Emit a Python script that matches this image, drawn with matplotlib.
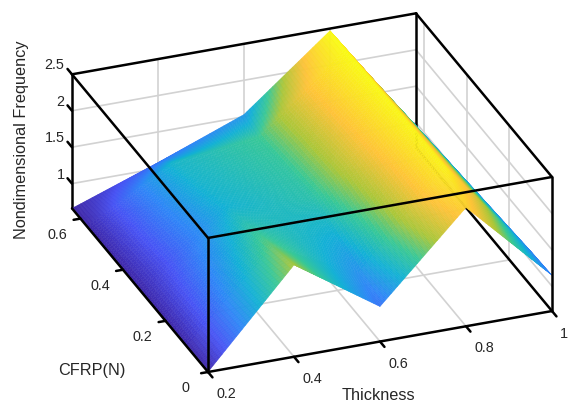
#!/usr/bin/python3

import matplotlib
matplotlib.use("Agg")
import matplotlib.pyplot as plt
import numpy as np
from matplotlib.colors import LinearSegmentedColormap
from mpl_toolkits.mplot3d import proj3d

plt.rcParams['font.family'] = ['Liberation Sans', 'DejaVu Sans']

thickness = [0.2, 0.4, 0.6, 0.8, 1.0]
cfrp = [0.0, 0.1, 0.32, 0.57, 0.64]

# rows follow cfrp, columns follow thickness
frequency = [
    [0.66, 1.92, 1.14, 2.29, 1.15],
    [0.66, 1.82, 1.25, 2.50, 1.13],
    [0.66, 1.59, 1.50, 2.50, 1.06],
    [0.66, 1.33, 1.46, 2.47, 0.98],
    [0.66, 1.08, 1.53, 2.47, 0.93],
]
# position in the colormap at each grid point
colour_level = [
    [0.00, 0.62, 0.20, 0.84, 0.22],
    [0.00, 0.55, 0.28, 0.96, 0.22],
    [0.00, 0.38, 0.46, 0.98, 0.24],
    [0.00, 0.40, 0.50, 1.00, 0.22],
    [0.00, 0.20, 0.30, 1.00, 0.20],
]

thickness_ticks = [0.2, 0.4, 0.6, 0.8, 1]
cfrp_ticks = [0, 0.2, 0.4, 0.6]
freq_ticks = [1, 1.5, 2, 2.5]
freq_tick_labels = ['1', '1.5', '2', '2.5']

parula = LinearSegmentedColormap.from_list('parula', [
    (0.00, (0.2422, 0.1504, 0.6603)),
    (0.12, (0.2810, 0.3228, 0.9579)),
    (0.25, (0.1786, 0.5289, 0.9682)),
    (0.375, (0.0689, 0.6948, 0.8394)),
    (0.50, (0.2161, 0.7843, 0.5923)),
    (0.62, (0.6720, 0.7793, 0.2227)),
    (0.78, (0.9970, 0.7659, 0.2199)),
    (1.00, (0.9769, 0.9839, 0.0805)),
])

W, H = 571, 408
T0, T1 = thickness[0], thickness[-1]
C0, C1 = cfrp[0], cfrp[-1]
Z0, Z1 = 0.66, 2.5

fig = plt.figure(figsize=(W / 100, H / 100), dpi=100)
ax = fig.add_axes([0, 0, 1, 1], projection='3d', computed_zorder=False)
ax.set_proj_type('ortho')
ax.view_init(elev=27.5, azim=-111)
ax.set_box_aspect((368.4, 379.5, 151.1))
ax.set_xlim(T0, T1)
ax.set_ylim(C0, C1)
ax.set_zlim(Z0, Z1)
ax.set_axis_off()


def pixel(t, c, z):
    x, y, _ = proj3d.proj_transform(t, c, z, ax.get_proj())
    return ax.transData.transform((x, y))


# fit the square axes so the front bottom edge lands where it is in the picture
ax.apply_aspect()
a, b = pixel(T0, C0, Z0), pixel(T1, C0, Z0)
side = 408 * 344.0 / (b[0] - a[0])
ax.set_position([0, 0, side / W, side / H])
ax.apply_aspect()
a = pixel(T0, C0, Z0)
ax.set_position([(208 - a[0]) / W, (36 - a[1]) / H, side / W, side / H])
ax.apply_aspect()

# interp shading: fine tessellation of the grid only for drawing
sub = 30
fine_t = np.linspace(T0, T1, (len(thickness) - 1) * sub + 1)
fine_c = np.concatenate([np.linspace(cfrp[i], cfrp[i + 1], sub, endpoint=False) for i in range(len(cfrp) - 1)] + [[C1]])


def refine(grid):
    grid = np.array(grid)
    rows = np.array([np.interp(fine_t, thickness, r) for r in grid])
    return np.array([np.interp(fine_c, cfrp, rows[:, j]) for j in range(rows.shape[1])]).T


X, Y = np.meshgrid(fine_t, fine_c)
Z = refine(frequency)
L = refine(colour_level)
L = (L[:-1, :-1] + L[1:, :-1] + L[:-1, 1:] + L[1:, 1:]) / 4

grid_col = '#d2d2d2'
for t in thickness_ticks[1:-1]:
    ax.plot([t, t], [C0, C1], [Z0, Z0], color=grid_col, lw=1.2, zorder=1)
    ax.plot([t, t], [C1, C1], [Z0, Z1], color=grid_col, lw=1.2, zorder=1)
for c in cfrp_ticks[1:]:
    ax.plot([T0, T1], [c, c], [Z0, Z0], color=grid_col, lw=1.2, zorder=1)
    ax.plot([T1, T1], [c, c], [Z0, Z1], color=grid_col, lw=1.2, zorder=1)
for z in freq_ticks[:-1]:
    ax.plot([T0, T1], [C1, C1], [z, z], color=grid_col, lw=1.2, zorder=1)
    ax.plot([T1, T1], [C0, C1], [z, z], color=grid_col, lw=1.2, zorder=1)


def edge(p, q, zorder):
    ax.plot([p[0], q[0]], [p[1], q[1]], [p[2], q[2]], color='k', lw=1.8, zorder=zorder, solid_capstyle='round')


# box edges behind the surface
edge((T0, C1, Z1), (T1, C1, Z1), 2)
edge((T1, C1, Z1), (T1, C0, Z1), 2)
edge((T1, C1, Z1), (T1, C1, Z0), 2)
edge((T0, C1, Z0), (T0, C1, Z1), 2)
edge((T1, C1, Z0), (T1, C0, Z0), 2)

ax.plot_surface(X, Y, Z, rstride=1, cstride=1, facecolors=parula(L), shade=False, linewidth=0.3, antialiased=True, zorder=3)

# box edges in front of the surface
edge((T0, C1, Z1), (T0, C0, Z1), 4)
edge((T0, C0, Z1), (T1, C0, Z1), 4)
edge((T0, C0, Z1), (T0, C0, Z0), 4)
edge((T1, C0, Z1), (T1, C0, Z0), 4)
edge((T0, C0, Z0), (T1, C0, Z0), 4)
edge((T0, C0, Z0), (T0, C1, Z0), 4)

txt = '#262626'
fs = 10.4


def label(t, c, z, s, ha='center'):
    x, y = pixel(t, c, z)
    fig.text(x / W, y / H, s, color=txt, fontsize=fs, ha=ha, va='center')


for t in thickness_ticks:
    edge((t, C0, Z0), (t, C0 - 0.021, Z0), 4)
    label(t - (0.016 if t == 1 else 0), C0 - 0.0864, Z0, str(t))
for c in cfrp_ticks:
    edge((T0, c, Z0), (T0 - 0.016, c, Z0), 4)
    label(T0 - 0.0535, c, Z0 - 0.165, str(c))
for z, lab in zip(freq_ticks, freq_tick_labels):
    edge((T0, C1, z), (T0, C1 + 0.021, z), 4)
    label(T0, C1 + 0.035, z, lab, ha='right')

fig.text(378 / W, 1 - 396 / H, 'Thickness', color=txt, fontsize=11.7, ha='center', va='center')
fig.text(92 / W, 1 - 371 / H, 'CFRP(N)', color=txt, fontsize=11.7, ha='center', va='center')
fig.text(22 / W, 1 - 140 / H, 'Nondimensional Frequency', color=txt, fontsize=11.7, rotation=90, ha='center', va='center')

fig.savefig("out.png", dpi=100)
